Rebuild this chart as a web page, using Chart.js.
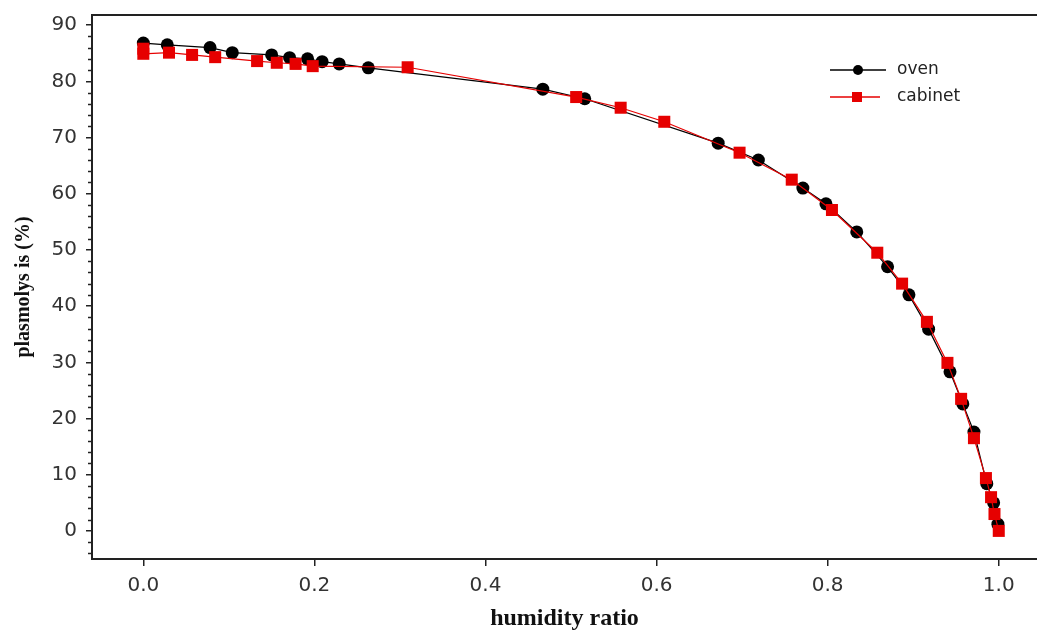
<!DOCTYPE html>
<html>
<head>
<meta charset="utf-8">
<script src="https://cdn.jsdelivr.net/npm/chart.js@4.4.0/dist/chart.umd.min.js"></script>
<style>
  html, body { margin: 0; padding: 0; background: #fff; }
</style>
</head>
<body>
<canvas id="plasmoChart" width="1037" height="632"></canvas>
<script>
// values
const ovenX = [0, 0.028, 0.078, 0.104, 0.150, 0.171, 0.192, 0.209, 0.229, 0.263, 0.467, 0.516, 0.672, 0.719, 0.771, 0.798, 0.834, 0.870, 0.895, 0.918, 0.943, 0.958, 0.971, 0.986, 0.994, 0.999];
const ovenY = [86.8, 86.5, 86.0, 85.1, 84.7, 84.2, 84.0, 83.5, 83.1, 82.4, 78.6, 76.9, 69.0, 66.0, 61.0, 58.2, 53.2, 47.0, 42.0, 35.9, 28.3, 22.6, 17.6, 8.4, 5.0, 1.2];

const cabinetX = [0, 0, 0.030, 0.057, 0.084, 0.133, 0.156, 0.178, 0.198, 0.309, 0.506, 0.558, 0.609, 0.697, 0.758, 0.805, 0.858, 0.887, 0.916, 0.940, 0.956, 0.971, 0.985, 0.991, 0.995, 1.0];
const cabinetY = [85.8, 84.9, 85.1, 84.7, 84.3, 83.6, 83.3, 83.1, 82.7, 82.5, 77.2, 75.3, 72.8, 67.3, 62.5, 57.1, 49.5, 44.0, 37.2, 29.9, 23.5, 16.5, 9.4, 6.0, 3.0, 0.0];

const xTicks = [0, 0.2, 0.4, 0.6, 0.8, 1.0];
const yTicks = [0, 10, 20, 30, 40, 50, 60, 70, 80, 90];
const yMinorTicks = [-4, -2, 2, 4, 6, 8, 12, 14, 16, 18, 22, 24, 26, 28, 32, 34, 36, 38, 42, 44, 46, 48, 52, 54, 56, 58, 62, 64, 66, 68, 72, 74, 76, 78, 82, 84, 86, 88];

const seriesNames = ["oven", "cabinet"];

function toPoints(xs, ys) {
  return xs.map((x, i) => ({ x: x, y: ys[i] }));
}

const axisColor = "#222";
const tickFont = { family: "DejaVu Sans", size: 20 };

// frame top line, minor y ticks and the in-plot legend
const extrasPlugin = {
  id: "extras",
  afterDraw(chart) {
    const ctx = chart.ctx;
    const area = chart.chartArea;
    const yScale = chart.scales.y;
    ctx.save();
    ctx.strokeStyle = axisColor;
    ctx.lineWidth = 2;
    ctx.beginPath();
    ctx.moveTo(area.left, area.top);
    ctx.lineTo(area.right + 2, area.top);
    ctx.stroke();

    ctx.lineWidth = 1.5;
    yMinorTicks.forEach(v => {
      const py = Math.round(yScale.getPixelForValue(v)) + 0.5;
      ctx.beginPath();
      ctx.moveTo(area.left - 4, py);
      ctx.lineTo(area.left, py);
      ctx.stroke();
    });

    // legend
    const lx = 830, ly = 70, rowGap = 27;
    ctx.font = "17px 'DejaVu Sans'";
    ctx.textBaseline = "middle";

    ctx.strokeStyle = "#000";
    ctx.lineWidth = 1.5;
    ctx.beginPath();
    ctx.moveTo(lx, ly);
    ctx.lineTo(lx + 56, ly);
    ctx.stroke();
    ctx.fillStyle = "#000";
    ctx.beginPath();
    ctx.arc(lx + 28, ly, 5, 0, Math.PI * 2);
    ctx.fill();
    ctx.fillStyle = "#222";
    ctx.fillText(seriesNames[0], lx + 67, ly);

    ctx.strokeStyle = "#e60000";
    ctx.beginPath();
    ctx.moveTo(lx, ly + rowGap);
    ctx.lineTo(lx + 50, ly + rowGap);
    ctx.stroke();
    ctx.fillStyle = "#e60000";
    ctx.fillRect(lx + 22, ly + rowGap - 5, 10, 10);
    ctx.fillStyle = "#222";
    ctx.fillText(seriesNames[1], lx + 67, ly + rowGap);
    ctx.restore();
  }
};

new Chart(document.getElementById("plasmoChart"), {
  type: "scatter",
  data: {
    datasets: [
      {
        label: seriesNames[0],
        data: toPoints(ovenX, ovenY),
        showLine: true,
        borderColor: "#000",
        backgroundColor: "#000",
        borderWidth: 1.2,
        pointStyle: "circle",
        pointRadius: 6.5,
        pointBorderWidth: 0,
        order: 1
      },
      {
        label: seriesNames[1],
        data: toPoints(cabinetX, cabinetY),
        showLine: true,
        borderColor: "#e60000",
        backgroundColor: "#e60000",
        borderWidth: 1.2,
        pointStyle: "rect",
        pointRadius: 8.5,
        pointBorderWidth: 0,
        order: 0
      }
    ]
  },
  plugins: [extrasPlugin],
  options: {
    responsive: false,
    animation: false,
    layout: { autoPadding: false, padding: { top: 15, right: 0, left: 0, bottom: 0 } },
    plugins: {
      legend: { display: false },
      tooltip: { enabled: false }
    },
    scales: {
      x: {
        type: "linear",
        min: -0.06,
        max: 1.0447,
        afterBuildTicks: scale => { scale.ticks = xTicks.map(v => ({ value: v })); },
        afterFit: scale => { scale.height = 73; },
        ticks: {
          color: "#333",
          font: tickFont,
          padding: 8,
          maxRotation: 0,
          callback: v => Number(v).toFixed(1)
        },
        grid: {
          display: true,
          drawOnChartArea: false,
          drawTicks: true,
          tickLength: 7,
          color: axisColor,
          lineWidth: 1.5
        },
        border: { display: true, color: axisColor, width: 2 },
        title: {
          display: true,
          text: "humidity ratio",
          color: "#111",
          font: { family: "Liberation Serif", size: 24, weight: "bold" },
          padding: { top: 0, bottom: -1 }
        }
      },
      y: {
        type: "linear",
        min: -5,
        max: 91.8,
        afterBuildTicks: scale => { scale.ticks = yTicks.map(v => ({ value: v })); },
        afterFit: scale => {
          scale.width = 92;
          scale.paddingTop = 0;
          scale.paddingBottom = 0;
        },
        ticks: {
          color: "#333",
          font: tickFont,
          padding: 9,
          callback: v => String(v)
        },
        grid: {
          display: true,
          drawOnChartArea: false,
          drawTicks: true,
          tickLength: 6,
          color: axisColor,
          lineWidth: 1.5
        },
        border: { display: true, color: axisColor, width: 2 },
        title: {
          display: true,
          text: "plasmolys is (%)",
          color: "#111",
          font: { family: "Liberation Serif", size: 20, weight: "bold" },
          padding: { top: 12, bottom: 0 }
        }
      }
    }
  }
});
</script>
</body>
</html>
